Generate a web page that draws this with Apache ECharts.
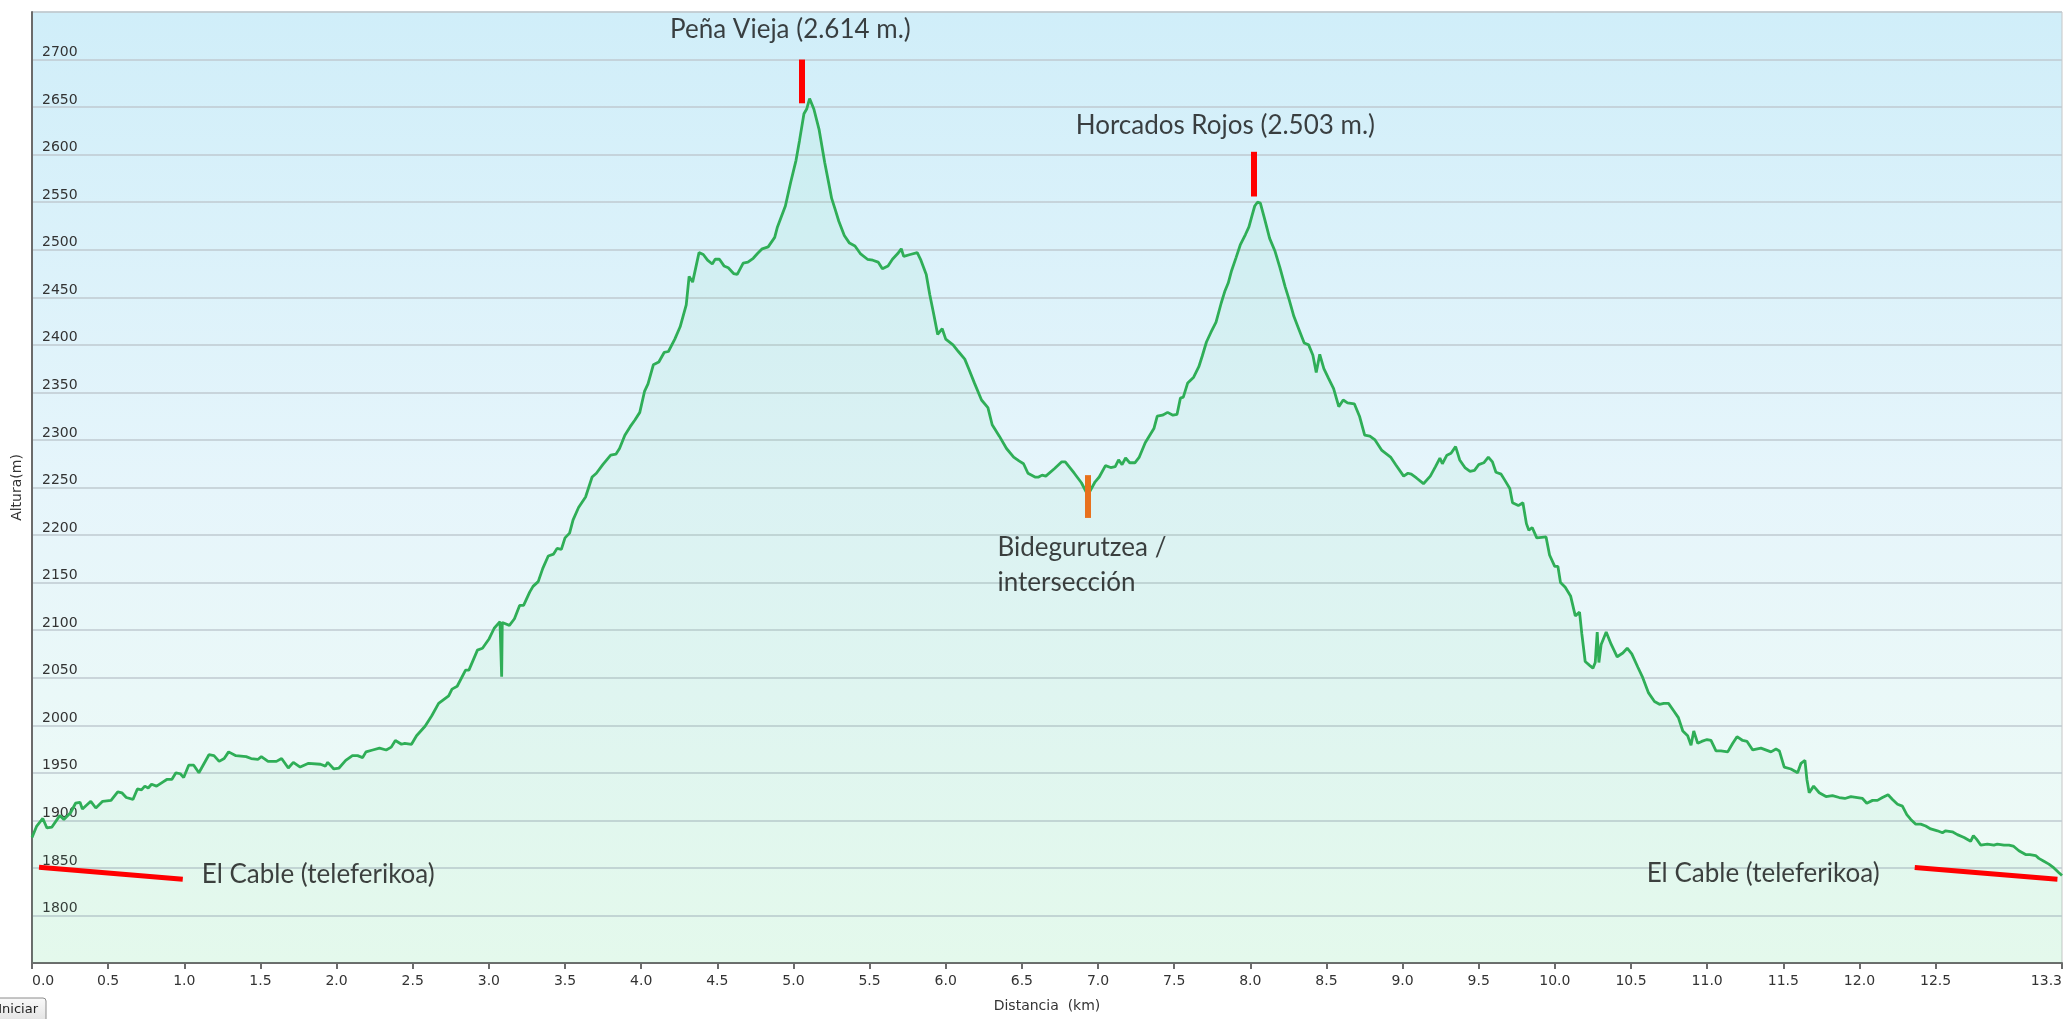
<!DOCTYPE html>
<html>
<head>
<meta charset="utf-8">
<script src="https://cdn.jsdelivr.net/npm/echarts@6/dist/echarts.min.js"></script>
<style>
html,body{margin:0;padding:0;background:#fff;}
#chart{width:2065px;height:1019px;}
</style>
</head>
<body>
<div id="chart"></div>
<script>
// ---- data (distance km, altitude m) ----
const distanceKm = [
0,0.031,0.071,0.098,0.131,0.182,0.209,0.253,0.286,0.315,0.331,0.386,0.419,0.464,0.519,0.563,0.590,0.619,0.663,0.692,
0.719,0.741,0.763,0.785,0.818,0.856,0.885,0.918,0.945,0.974,0.996,1.029,1.062,1.096,1.162,1.195,1.229,1.262,1.291,1.339,
1.406,1.439,1.483,1.506,1.550,1.605,1.639,1.683,1.716,1.761,1.816,1.894,1.927,1.942,1.982,2.016,2.060,2.104,2.138,2.171,
2.193,2.237,2.282,2.326,2.359,2.386,2.426,2.448,2.492,2.525,2.581,2.625,2.670,2.703,2.736,2.758,2.792,2.847,2.869,2.925,
2.958,3.002,3.035,3.073,3.080,3.084,3.088,3.095,3.135,3.168,3.202,3.228,3.268,3.290,3.324,
3.354,3.39,3.425,3.448,3.476,3.50,3.53,3.553,3.589,3.635,3.678,3.706,3.748,3.80,3.834,3.858,3.893,3.928,3.959,3.991,
4.022,4.045,4.08,4.116,4.151,4.179,4.221,4.256,4.296,4.315,4.338,4.38,4.408,4.436,4.467,4.486,4.514,4.544,4.572,4.607,
4.631,4.67,4.701,4.736,4.764,4.795,4.834,4.877,4.895,4.947,4.982,5.017,5.04,5.069,5.087,5.106,5.134,5.169,5.205,5.233,
5.251,5.275,5.298,5.334,5.368,5.404,5.439,5.486,5.521,5.556,5.584,5.621,5.65,5.685,5.708,5.724,5.767,5.813,5.837,5.872,
5.895,5.919,5.947,5.977,6.0,6.048,6.083,6.125,6.153,6.188,6.235,6.277,6.305,6.352,6.399,6.446,6.481,6.511,6.54,6.586,
6.61,6.633,6.657,6.715,6.762,6.785,6.844,6.891,6.933,
6.981,7.008,7.049,7.083,7.113,7.135,7.158,7.181,7.208,7.242,7.271,7.31,7.344,7.367,7.389,7.423,7.457,7.492,7.519,7.541,
7.56,7.589,7.628,7.662,7.684,7.712,7.741,7.775,7.809,7.832,7.855,7.877,7.907,7.934,7.968,7.991,8.013,8.029,8.047,8.066,
8.093,8.127,8.161,8.195,8.229,8.256,8.286,8.32,8.354,8.383,8.411,8.433,8.456,8.483,8.513,8.547,8.581,8.61,8.638,8.683,
8.717,8.751,8.785,8.819,8.864,8.921,8.955,9.007,9.035,9.057,9.091,9.137,9.182,9.216,9.245,9.261,9.291,9.318,9.348,9.375,
9.409,9.443,9.472,9.5,9.533,9.563,9.59,9.613,9.647,9.67,9.704,9.722,9.76,9.79,9.813,9.829,9.851,9.881,9.942,9.965,
9.999,10.02,
10.037,10.068,10.103,10.134,10.162,10.177,10.199,10.228,10.25,10.265,10.278,10.289,10.304,10.337,10.37,10.409,10.446,10.475,10.505,10.545,
10.577,10.615,10.654,10.687,10.715,10.746,10.781,10.811,10.84,10.872,10.894,10.912,10.938,10.964,10.999,11.025,11.058,11.091,11.135,11.168,
11.196,11.233,11.262,11.299,11.353,11.419,11.452,11.474,11.506,11.55,11.594,11.616,11.642,11.655,11.67,11.699,11.736,11.78,11.823,11.867,
11.904,11.944,11.987,12.02,12.048,12.086,12.118,12.151,12.188,12.217,12.25,12.282,12.311,12.337,12.37,12.402,12.435,12.468,12.512,12.545,
12.566,12.61,12.643,12.687,12.73,12.748,12.77,12.796,12.84,12.883,12.905,12.949,12.982,13.01,13.047,13.091,13.119,13.157,13.178,13.211,
13.244,13.277,13.31,13.33
];
const altitudeM = [
1882,1894,1902,1892,1893,1905,1901,1908,1918,1919,1912,1920,1913,1920,1921,1930,1929,1924,1922,1933,
1932,1936,1934,1938,1936,1940,1943,1943,1950,1949,1945,1958,1958,1950,1969,1968,1962,1965,1972,1968,
1967,1965,1964,1967,1962,1962,1965,1955,1961,1956,1960,1959,1957,1961,1954,1955,1963,1968,1968,1966,
1972,1974,1976,1974,1977,1984,1980,1981,1980,1989,1999,2010,2023,2027,2031,2038,2041,2058,2058,2079,
2081,2091,2102,2109,2108,2051,2108,2109,2105,2112,2126,2126,2140,2146,2151,
2165,2178,2180,2186,2185,2197,2202,2216,2229,2240,2261,2265,2274,2284,2285,2291,2305,2314,2321,2329,
2351,2359,2379,2382,2392,2393,2406,2419,2442,2472,2466,2497,2495,2489,2485,2490,2490,2483,2481,2475,
2474,2486,2487,2491,2496,2501,2503,2513,2524,2546,2571,2594,2615,2643,2648,2659,2648,2626,2592,2569,
2554,2542,2530,2515,2507,2504,2496,2490,2489,2487,2480,2483,2490,2496,2501,2493,2495,2497,2489,2474,
2453,2434,2411,2417,2406,2400,2393,2385,2374,2360,2342,2334,2316,2304,2291,2282,2278,2275,2265,2261,
2261,2263,2262,2270,2277,2277,2265,2255,2242,
2256,2261,2273,2271,2272,2279,2274,2281,2276,2276,2282,2297,2306,2312,2325,2326,2329,2326,2327,2344,
2345,2360,2366,2377,2388,2403,2413,2424,2444,2456,2465,2478,2492,2505,2516,2524,2537,2546,2550,2549,
2533,2512,2499,2481,2461,2447,2430,2416,2402,2400,2389,2371,2390,2375,2365,2354,2335,2342,2339,2338,
2325,2305,2304,2300,2289,2282,2274,2262,2265,2264,2260,2254,2262,2272,2281,2275,2284,2286,2293,2279,
2271,2267,2268,2274,2276,2282,2277,2266,2264,2258,2249,2234,2231,2234,2212,2205,2208,2197,2198,2179,
2167,2167,
2150,2145,2136,2115,2119,2096,2067,2063,2060,2066,2098,2066,2085,2098,2085,2072,2076,2081,2075,2061,
2050,2034,2025,2022,2023,2023,2015,2008,1994,1989,1979,1994,1981,1983,1985,1984,1973,1973,1972,1981,
1988,1984,1983,1974,1976,1972,1975,1973,1956,1954,1950,1960,1963,1943,1929,1936,1929,1925,1926,1924,
1923,1925,1924,1923,1918,1921,1921,1924,1927,1922,1917,1915,1906,1901,1896,1896,1894,1891,1889,1887,
1889,1888,1885,1882,1878,1884,1880,1874,1875,1874,1875,1874,1874,1873,1868,1864,1864,1863,1860,1857,
1854,1850,1845,1842
];
const xTickValues = [0,0.5,1,1.5,2,2.5,3,3.5,4,4.5,5,5.5,6,6.5,7,7.5,8,8.5,9,9.5,10,10.5,11,11.5,12,12.5,13.33];
const yMin = 1750, yMax = 2750, yStep = 50;
const xMax = 13.33;

// ---- annotations (data coordinates) ----
const summitBars = [[5.056, 2654, 2700], [8.02, 2556, 2603]];   // x, from, to
const junctionBar = [6.931, 2218, 2263];
const cableLines = [[0.046, 1850.7, 0.99, 1838], [12.363, 1850.3, 13.30, 1838]];
const centeredNotes = [[4.98, 2731, 'Peña Vieja (2.614 m.)'], [7.836, 2631, 'Horcados Rojos (2.503 m.)']];
const leftNotes = [[1.115, 1842.5, 'El Cable (teleferikoa)'], [10.603, 1844, 'El Cable (teleferikoa)'],
                   [6.34, 2168, 'Bidegurutzea /\nintersección']];

const profile = distanceKm.map((d, i) => [d, altitudeM[i]]);

const markLines = [];
summitBars.forEach(b => markLines.push([
  {coord: [b[0], b[1]], lineStyle: {color: '#ff0000', width: 6, type: 'solid'}},
  {coord: [b[0], b[2]]}
]));
markLines.push([
  {coord: [junctionBar[0], junctionBar[1]], lineStyle: {color: '#e8711d', width: 6, type: 'solid'}},
  {coord: [junctionBar[0], junctionBar[2]]}
]);
cableLines.forEach(c => markLines.push([
  {coord: [c[0], c[1]], lineStyle: {color: '#ff0000', width: 5, type: 'solid'}},
  {coord: [c[2], c[3]]}
]));

const axisFont = 'DejaVu Sans, Verdana, sans-serif';
const noteFont = 'Lato, "Open Sans", sans-serif';

const chart = echarts.init(document.getElementById('chart'), null, {renderer: 'canvas'});
chart.setOption({
  animation: false,
  backgroundColor: '#ffffff',
  grid: {
    left: 32, right: 0, top: 12, bottom: 56,
    show: true,
    borderColor: '#c6c6c6', borderWidth: 1,
    backgroundColor: {
      type: 'linear', x: 0, y: 0, x2: 0, y2: 1,
      colorStops: [
        {offset: 0, color: '#d0eef9'},
        {offset: 0.5, color: '#e6f5fb'},
        {offset: 1, color: '#effcf4'}
      ]
    }
  },
  xAxis: {
    type: 'value', min: 0, max: xMax,
    name: 'Distancia  (km)', nameLocation: 'middle', nameGap: 36,
    nameTextStyle: {fontFamily: axisFont, fontSize: 14, color: '#333'},
    axisLine: {show: true, lineStyle: {color: '#6b6b6b', width: 2}},
    axisTick: {show: true, length: 6, customValues: xTickValues, lineStyle: {color: '#6b6b6b', width: 2}},
    axisLabel: {
      customValues: xTickValues,
      formatter: v => Number(v).toFixed(1),
      fontFamily: axisFont, fontSize: 14, color: '#333', margin: 11,
      alignMinLabel: 'left', alignMaxLabel: 'right'
    },
    splitLine: {show: false}
  },
  yAxis: {
    type: 'value', min: yMin, max: yMax, interval: yStep,
    name: 'Altura(m)', nameLocation: 'middle', nameGap: 5,
    nameTextStyle: {fontFamily: axisFont, fontSize: 14, color: '#333'},
    axisLine: {show: true, lineStyle: {color: '#6b6b6b', width: 2}},
    axisTick: {show: false},
    axisLabel: {
      inside: true, verticalAlign: 'bottom', margin: 10,
      showMinLabel: false, showMaxLabel: false,
      formatter: v => String(v),
      fontFamily: axisFont, fontSize: 14, color: '#333'
    },
    splitLine: {show: true, lineStyle: {color: '#bfcad1', width: 1.5}}
  },
  series: [
    {
      type: 'line',
      data: profile,
      showSymbol: false,
      symbol: 'none',
      silent: true,
      lineStyle: {color: '#2fae57', width: 2.8},
      areaStyle: {color: 'rgba(90, 215, 140, 0.10)'},
      markLine: {
        silent: true,
        symbol: ['none', 'none'],
        label: {show: false},
        emphasis: {disabled: true},
        data: markLines
      },
      z: 3
    },
    {
      type: 'scatter',
      silent: true,
      symbolSize: 0,
      itemStyle: {color: 'transparent'},
      data: centeredNotes,
      label: {
        show: true, position: 'inside',
        formatter: p => p.data[2],
        fontFamily: noteFont, fontSize: 26, color: '#111'
      },
      z: 5
    },
    {
      type: 'scatter',
      silent: true,
      symbolSize: 0,
      itemStyle: {color: 'transparent'},
      data: leftNotes,
      label: {
        show: true, position: 'right', distance: 0, align: 'left',
        formatter: p => p.data[2],
        fontFamily: noteFont, fontSize: 26, lineHeight: 35, color: '#111'
      },
      z: 5
    }
  ],
  graphic: [
    {
      type: 'group', x: 0, y: 998, silent: true,
      children: [
        {type: 'rect', shape: {x: -12, y: 0, width: 58, height: 30, r: 3},
         style: {fill: {type: 'linear', x: 0, y: 0, x2: 0, y2: 1,
                 colorStops: [{offset: 0, color: '#fafafa'}, {offset: 1, color: '#dcdcdc'}]},
                 stroke: '#8c8c8c', lineWidth: 1}},
        {type: 'text', x: 38, y: 12, style: {text: 'Iniciar', align: 'right', verticalAlign: 'middle',
                 font: '13px "DejaVu Sans", sans-serif', fill: '#222'}}
      ]
    }
  ]
});
</script>
</body>
</html>
